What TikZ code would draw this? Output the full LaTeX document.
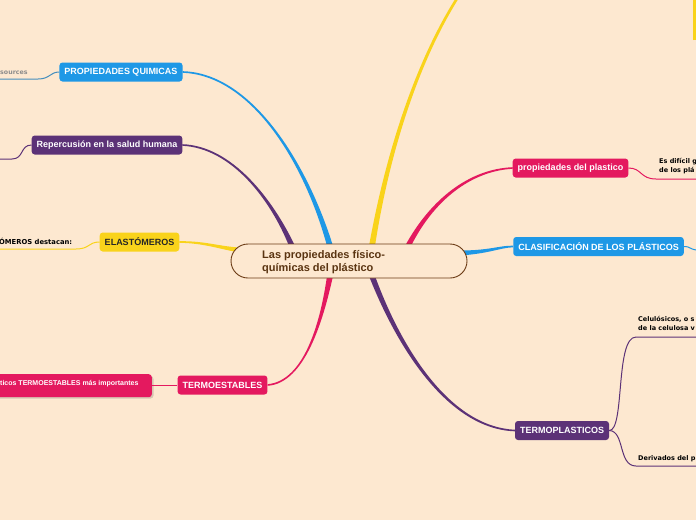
\documentclass[tikz,border=0pt]{standalone}
\usepackage{fontspec}
\setmainfont{Liberation Sans}
\newfontfamily\dvs{DejaVu Sans}
\definecolor{bg}{RGB}{253,232,208}
\definecolor{cblue}{RGB}{30,152,230}
\definecolor{cpurple}{RGB}{92,50,119}
\definecolor{cyellow}{RGB}{249,211,27}
\definecolor{cpink}{RGB}{228,25,95}
\definecolor{cbrown}{RGB}{107,58,20}
\definecolor{ctext}{RGB}{90,52,17}
\definecolor{cgray}{RGB}{140,140,140}
\tikzset{
  topic/.style={rounded corners=3pt, minimum height=19pt, inner xsep=5pt, inner ysep=0pt,
    font=\bfseries\fontsize{9}{10}\selectfont, text=white},
  twig/.style={line width=1pt},
  leaf/.style={font=\dvs\bfseries\fontsize{6.5}{8.5}\selectfont, text=black, align=left, inner sep=0pt}
}
% tapered branch: colour, side A (start, c1, c2, end), side B (end, c2, c1, start)
\newcommand\taperbranch[9]{\fill[#1] #2 .. controls #3 and #4 .. #5 -- #6 .. controls #7 and #8 .. #9 -- cycle;}
\begin{document}
\begin{tikzpicture}[x=1pt,y=-1pt]
\fill[bg] (0,0) rectangle (696,520);
\useasboundingbox (0,0) rectangle (696,520);
\clip (0,0) rectangle (696,520);

% topic nodes
\node[topic, fill=cblue] (pq) at (121,72) {PROPIEDADES QUIMICAS};
\node[topic, fill=cpurple] (rs) at (107,145) {Repercusión en la salud humana};
\node[topic, fill=cyellow, text=black!85] (el) at (139.5,242) {ELASTÓMEROS};
\node[topic, fill=cpink] (te) at (222.5,385) {TERMOESTABLES};
\node[topic, fill=cpink] (pp) at (570.5,168) {propiedades del plastico};
\node[topic, fill=cblue] (cl) at (598.5,246.5) {CLASIFICACIÓN DE LOS PLÁSTICOS};
\node[topic, fill=cpurple] (tp) at (562,430.5) {TERMOPLASTICOS};

% central node position
\coordinate (cc) at (349,261);
\coordinate (ytA) at (456.9,-3.7);
\coordinate (ytB) at (459.1,-2.3);

% tapered branches
\taperbranch{cblue}{([yshift=0.8pt]pq.east)}{(250,72.8)}{(306.1,159.5)}{([xshift=-16pt,yshift=15pt]cc)}
  {([xshift=-22pt,yshift=15pt]cc)}{(303.9,160.5)}{(250,75.2)}{([yshift=-0.8pt]pq.east)}
\taperbranch{cpurple}{([yshift=0.8pt]rs.east)}{(232,145.8)}{(273.1,199.5)}{([xshift=-54pt,yshift=15pt]cc)}
  {([xshift=-60pt,yshift=15pt]cc)}{(270.9,200.5)}{(232,148.2)}{([yshift=-0.8pt]rs.east)}
\taperbranch{cyellow}{([yshift=0.8pt]el.east)}{(205,240.8)}{(220,246.6)}{([xshift=-109pt,yshift=13.5pt]cc)}
  {([xshift=-109pt,yshift=8.5pt]cc)}{(220,249.4)}{(205,243.2)}{([yshift=-0.8pt]el.east)}
\taperbranch{cpink}{([yshift=0.8pt]te.east)}{(305,380.8)}{(320.8,319.7)}{([xshift=-22pt,yshift=-15pt]cc)}
  {([xshift=-16pt,yshift=-15pt]cc)}{(323.2,320.3)}{(305,383.2)}{([yshift=-0.8pt]te.east)}
\taperbranch{cyellow}{([xshift=20pt,yshift=15pt]cc)}{(386.3,149.6)}{(416.6,59.4)}{(ytA)}
  {(ytB)}{(419.4,60.6)}{(389.7,150.4)}{([xshift=26pt,yshift=15pt]cc)}
\taperbranch{cpink}{([xshift=56pt,yshift=15pt]cc)}{(430.6,198.9)}{(469.6,168.9)}{([yshift=0.8pt]pp.west)}
  {([yshift=-0.8pt]pp.west)}{(470.4,171.1)}{(433.4,201.1)}{([xshift=62pt,yshift=15pt]cc)}
\taperbranch{cblue}{([xshift=111pt,yshift=10.5pt]cc)}{(490,250.5)}{(500,245.3)}{([yshift=0.8pt]cl.west)}
  {([yshift=-0.8pt]cl.west)}{(500,247.7)}{(490,253.5)}{([xshift=111pt,yshift=5.5pt]cc)}
\taperbranch{cpurple}{([xshift=26pt,yshift=-15pt]cc)}{(401.6,349.2)}{(450.7,427)}{([yshift=0.8pt]tp.west)}
  {([yshift=-0.8pt]tp.west)}{(449.3,429)}{(398.4,350.8)}{([xshift=20pt,yshift=-15pt]cc)}

\coordinate (ty) at (694.5,40);
\draw[line width=2.2pt, cyellow] (ty) -- (694.5,-2);

% central node
\node[draw=cbrown, line width=0.9pt, rounded corners=17pt, minimum width=236pt, minimum height=34pt, fill=bg] (c) at (cc) {};
\node[anchor=west, align=left, font=\bfseries\fontsize{11}{12.5}\selectfont, text=ctext, inner sep=0pt] (ct) at (262,262) {Las propiedades físico-\\químicas del plástico};

% left leaves
\coordinate (pqe) at (-2,79);
\draw[twig, cblue!60!gray] (pq.west) .. controls (50,72) and (50,79) .. (38,79) -- (pqe);
\node[anchor=base west, font=\dvs\bfseries\fontsize{6.3}{7}\selectfont, text=cgray, inner sep=0pt] (src) at (0,74.5) {sources};

\coordinate (rse) at (-2,159);
\draw[twig, cpurple] (rs.west) .. controls (20,145) and (24,159) .. (12,159) -- (rse);

\coordinate (ele) at (-2,249);
\draw[twig, cyellow] (el.west) .. controls (88,242) and (90,249) .. (76,249) -- (ele);
\node[anchor=base west, leaf, font=\dvs\bfseries\fontsize{6.8}{8}\selectfont] (eld) at (-1,244) {ÓMEROS destacan:};

\fill[black, opacity=0.15, rounded corners=3pt] (-5,376) rectangle (153.5,398.5);
\node[draw=none, fill=cpink, rounded corners=3pt, minimum width=160pt, minimum height=23pt, anchor=north east] (tb) at (152,374) {};
\node[anchor=base west, font=\bfseries\fontsize{7}{8}\selectfont, text=white, inner sep=0pt] (tbt) at (0,385.5) {ticos TERMOESTABLES más importantes};
\draw[twig, cpink] (te.west) -- (tb.east |- te.west);

% right leaves
\coordinate (ppe) at (698,179);
\draw[twig, cpink] (pp.east) .. controls (642,168) and (640,179) .. (656,179) -- (ppe);
\node[anchor=north west, leaf] (ppt) at (659,158.5) {Es difícil g\\de los plá};

\coordinate (cle) at (698,250);
\draw[twig, cblue] (cl.east) .. controls (690,246) and (690,250) .. (cle);

\coordinate (c1) at (698,337);
\coordinate (c2) at (698,466);
\draw[twig, cpurple] (tp.east) .. controls (625,431) and (615,337) .. (636,337) -- (c1);
\draw[twig, cpurple] (tp.east) .. controls (625,431) and (618,466) .. (636,466) -- (c2);
\node[anchor=north west, leaf] (t1) at (638,316.5) {Celulósicos, o s\\de la celulosa v};
\node[anchor=north west, leaf] (t2) at (638,455) {Derivados del p};
\end{tikzpicture}
\end{document}
